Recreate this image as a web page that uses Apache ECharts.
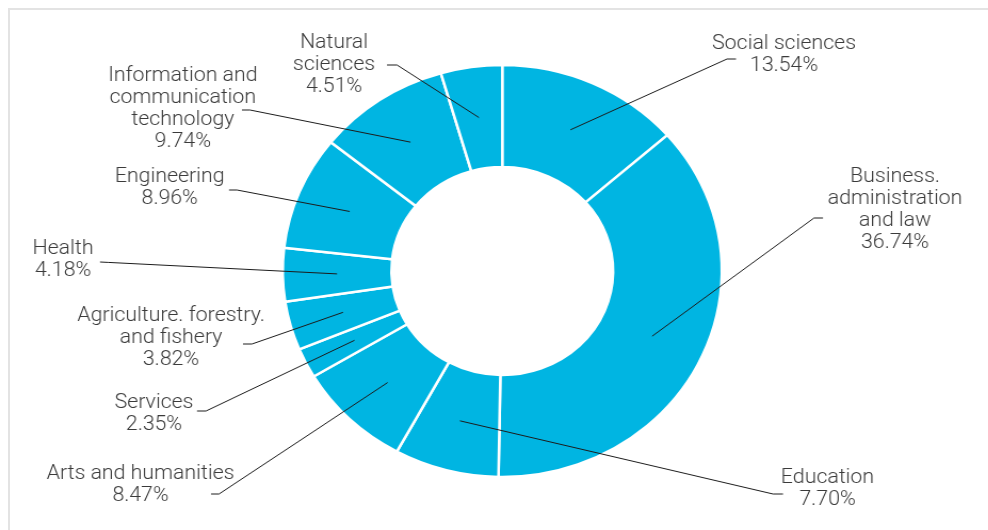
<!DOCTYPE html>
<html>
<head>
<meta charset="utf-8">
<script src="https://cdn.jsdelivr.net/npm/echarts@6/dist/echarts.min.js"></script>
<style>
  html, body { margin: 0; padding: 0; background: #fff; width: 988px; height: 530px; overflow: hidden; }
  #frame { position: absolute; left: 8px; top: 8px; width: 1200px; height: 800px;
           border: 2px solid #e3e3e3; box-sizing: border-box; }
  /* the ring is drawn slightly wider than tall */
  #chart { position: absolute; left: 0; top: 0; width: 927px; height: 530px;
           transform: scaleX(1.0659); transform-origin: 0 0; }
</style>
</head>
<body>
<div id="frame"></div>
<div id="chart"></div>
<script>
// Graduates by field of study, share in %
const fields = [
  'Social sciences',
  'Business.\nadministration\nand law',
  'Education',
  'Arts and humanities',
  'Services',
  'Agriculture. forestry.\nand fishery',
  'Health',
  'Engineering',
  'Information and\ncommunication\ntechnology',
  'Natural\nsciences'
];
const shares = [13.54, 36.74, 7.70, 8.47, 2.35, 3.82, 4.18, 8.96, 9.74, 4.51];

// Label placement in page pixels: centre of the text block, elbow of the leader, tick end
const leaders = [
  { x: 784,   y: 54.5,  elbow: [727, 59],   end: [736, 59] },
  { x: 895,   y: 209.5, elbow: [814, 218],  end: [823, 218] },
  { x: 827.5, y: 489.2, elbow: [773, 494],  end: [783, 494] },
  { x: 140.5, y: 485.3, elbow: [219, 494],  end: [211, 494] },
  { x: 154,   y: 413.7, elbow: [206, 411],  end: [197, 411] },
  { x: 171,   y: 337.7, elbow: [252, 344],  end: [243, 344] },
  { x: 63,    y: 260,   elbow: [108, 262.4], end: [100, 262] },
  { x: 169.7, y: 187.5, elbow: [237, 190],  end: [229, 190] },
  { x: 182.8, y: 108.7, elbow: [250, 110],  end: [242, 110] },
  { x: 334,   y: 65.2,  elbow: [397, 65],   end: [387, 65] }
];

const STRETCH = 1.0659;
const CX = 471.2, CY = 271;
const R_IN = 104, R_OUT = 206, R_MID = 155;

function leaderStart(p) {
  let a = p.labelLinePoints && p.labelLinePoints[0];
  if (!a) {
    const total = shares.reduce((s, v) => s + v, 0);
    let before = 0;
    for (let i = 0; i < p.dataIndex; i++) before += shares[i];
    const ang = (before + shares[p.dataIndex] / 2) / total * 2 * Math.PI;
    a = [CX + Math.sin(ang), CY - Math.cos(ang)];
  }
  const dx = a[0] - CX, dy = a[1] - CY, d = Math.hypot(dx, dy) || 1;
  return [CX + dx * R_MID / d, CY + dy * R_MID / d];
}

const pieData = fields.map((name, i) => ({ name: name, value: shares[i] }));

const chart = echarts.init(document.getElementById('chart'), null, { renderer: 'canvas' });
chart.setOption({
  animation: false,
  series: [
    {
      // the ring itself
      type: 'pie',
      z: 2,
      center: [CX, CY],
      radius: [R_IN, R_OUT],
      startAngle: 90,
      clockwise: true,
      silent: true,
      itemStyle: { color: '#00b5e2', borderColor: '#ffffff', borderWidth: 2.5 },
      label: { show: false },
      labelLine: { show: false },
      data: pieData
    },
    {
      // same slices, invisible, carrying the labels and leaders above the ring
      type: 'pie',
      z: 5,
      center: [CX, CY],
      radius: [R_IN, R_OUT],
      startAngle: 90,
      clockwise: true,
      silent: true,
      avoidLabelOverlap: false,
      itemStyle: { color: 'rgba(0,0,0,0)', borderWidth: 0 },
      label: {
        show: true,
        position: 'outside',
        formatter: p => p.name + '\n' + p.value.toFixed(2) + '%',
        fontFamily: 'Roboto',
        fontWeight: 300,
        fontSize: 20,
        lineHeight: 22,
        color: '#3a3a3a',
        align: 'center'
      },
      labelLine: {
        show: true,
        length: 20,
        length2: 10,
        lineStyle: { color: '#1c1c1c', width: 1 }
      },
      labelLayout: function (p) {
        const L = leaders[p.dataIndex];
        return {
          x: L.x / STRETCH,
          y: L.y,
          align: 'center',
          verticalAlign: 'middle',
          labelLinePoints: [
            leaderStart(p),
            [L.elbow[0] / STRETCH, L.elbow[1]],
            [L.end[0] / STRETCH, L.end[1]]
          ]
        };
      },
      data: pieData
    }
  ]
});
</script>
</body>
</html>
